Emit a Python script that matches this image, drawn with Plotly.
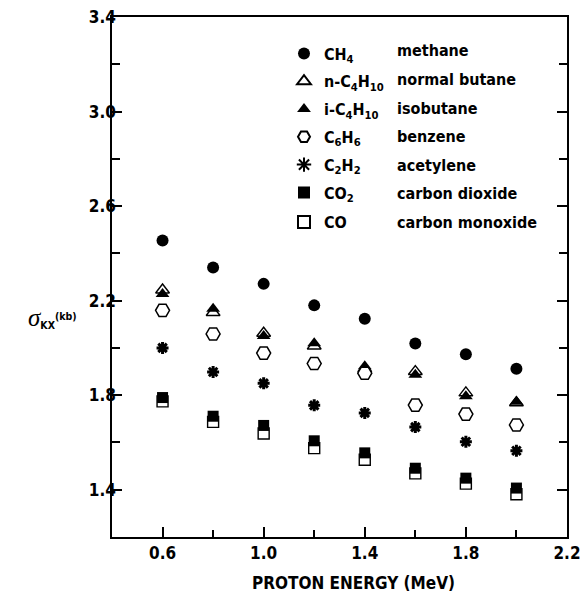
import plotly.graph_objects as go

energy = [0.6, 0.8, 1.0, 1.2, 1.4, 1.6, 1.8, 2.0]
ch4 = [2.454, 2.340, 2.271, 2.180, 2.123, 2.019, 1.973, 1.912]
n_c4h10 = [2.245, 2.150, 2.062, 2.008, 1.912, 1.900, 1.810, 1.768]
i_c4h10 = [2.228, 2.166, 2.050, 2.020, 1.922, 1.886, 1.796, 1.772]
c6h6 = [2.159, 2.059, 1.978, 1.934, 1.893, 1.758, 1.720, 1.674]
c2h2 = [2.000, 1.898, 1.850, 1.757, 1.725, 1.665, 1.603, 1.565]
co2 = [1.790, 1.711, 1.672, 1.607, 1.556, 1.491, 1.449, 1.407]
co = [1.774, 1.687, 1.638, 1.576, 1.527, 1.469, 1.426, 1.381]

formulas = ["CH<sub>4</sub>", "n-C<sub>4</sub>H<sub>10</sub>", "i-C<sub>4</sub>H<sub>10</sub>",
            "C<sub>6</sub>H<sub>6</sub>", "C<sub>2</sub>H<sub>2</sub>", "CO<sub>2</sub>", "CO"]
names = ["methane", "normal butane", "isobutane", "benzene", "acetylene",
         "carbon dioxide", "carbon monoxide"]

FONT = "DejaVu Sans Condensed, Liberation Sans Narrow, sans-serif"

# plot area in pixels (for placing texts in paper coordinates)
L, R, T, B = 112, 567, 17, 537
W, H = R - L, B - T

def px(x):
    return (x - L) / W

def py(y):
    return (B - y) / H

fig = go.Figure()

def add(y, idx, symbol, size, fill, lw=1.5, legend="legend"):
    fig.add_trace(go.Scatter(
        x=energy, y=y, mode="markers", name=formulas[idx], legendrank=idx + 1,
        legendgroup="g%d" % idx, legend=legend,
        marker=dict(symbol=symbol, size=size, color=fill,
                    line=dict(color="black", width=lw)),
    ))

add(ch4, 0, "circle", 12, "black", 0)
add(n_c4h10, 1, "triangle-up", 12, "white", 1.4)
add(i_c4h10, 2, "triangle-up", 12, "black", 0)
add(c6h6, 3, "hexagon2", 14, "white", 1.5)
add(c2h2, 4, "asterisk-open", 10, "black", 3)
add(co, 6, "square", 11, "white", 1.4, legend="legend2")
add(co2, 5, "square", 11, "black", 0)

# names column of the legend
for i, nm in enumerate(names):
    fig.add_annotation(x=px(395), y=py(51 + 28.5 * i), xref="paper", yref="paper",
                       text="<b>%s</b>" % nm, showarrow=False, xanchor="left", yanchor="middle",
                       font=dict(family=FONT, size=16, color="black"))

# y axis title
fig.add_annotation(
    x=px(79), y=py(318), xref="paper", yref="paper",
    text=("<i>σ</i><span style='font-family:DejaVu Sans Condensed;font-weight:bold;font-size:15px'>"
          "<sub>KX</sub><sup>(kb)</sup></span>"),
    showarrow=False, xanchor="right", yanchor="middle",
    font=dict(family="Liberation Serif, DejaVu Serif, serif", size=25, color="black"))

# x axis title
fig.add_annotation(x=px(353), y=py(583), xref="paper", yref="paper",
                   text="<b>PROTON ENERGY (MeV)</b>", showarrow=False,
                   xanchor="center", yanchor="middle",
                   font=dict(family=FONT, size=17, color="black"))

axis_common = dict(
    showgrid=False, zeroline=False, showline=True, linecolor="black", linewidth=1.5,
    ticks="inside", ticklen=10, tickwidth=1.5, tickcolor="black", tickformat=".1f",
    tickfont=dict(family=FONT, size=17, color="black", weight="bold"),
    automargin=False,
)

fig.update_xaxes(range=[0.4, 2.2001], tick0=0.2, dtick=0.4, mirror=True,
                 minor=dict(dtick=0.2, tick0=0.2, ticks="inside", ticklen=7, tickwidth=1.5, tickcolor="black"),
                 **axis_common)
fig.update_yaxes(range=[1.2, 3.4001], tick0=0.2, dtick=0.4, mirror="allticks",
                 ticklabelstandoff=-9,
                 minor=dict(dtick=0.2, tick0=0.2, ticks="inside", ticklen=8, tickwidth=1.5, tickcolor="black"),
                 **axis_common)

legend_common = dict(xanchor="left", yanchor="top", bgcolor="rgba(0,0,0,0)",
                     tracegroupgap=4, itemsizing="constant",
                     font=dict(family=FONT, size=16, color="black", weight="bold"))

fig.update_layout(
    width=581, height=596,
    margin=dict(l=L, r=581 - R, t=T, b=596 - B),
    paper_bgcolor="white", plot_bgcolor="white",
    showlegend=True,
    legend=dict(x=px(284), y=py(36.5), **legend_common),
    legend2=dict(x=px(284), y=py(205), **legend_common),
)

fig.write_html("out.html", config={"displayModeBar": False},
               post_script="document.body.style.margin='0px';")
